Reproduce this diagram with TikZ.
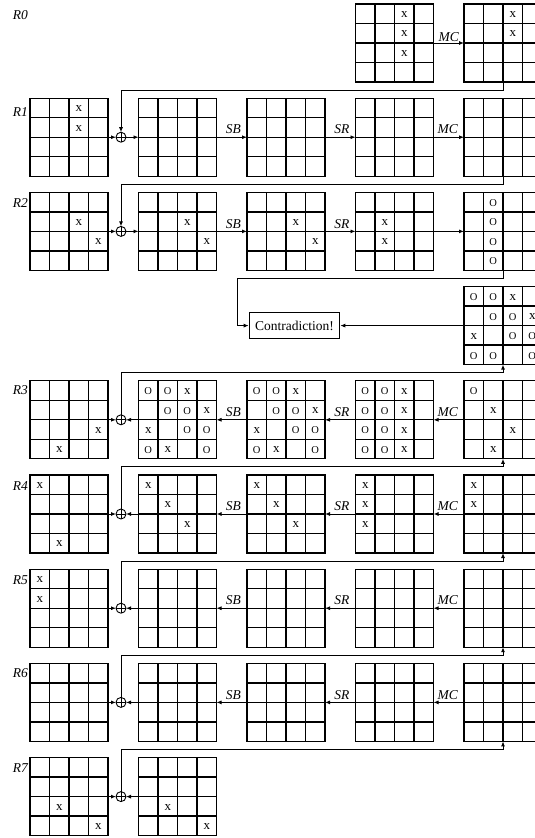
\documentclass[tikz,border=0pt]{standalone}
\usepackage{fontspec}
\setmainfont{Liberation Serif}
\usetikzlibrary{arrows.meta,positioning,calc}
\newcommand\Oo{{\fontsize{10.5}{10.5}\selectfont O}}
\newcommand\sgrid[3]{%
  \node[gridbox] (#1) at (#2,#3) {};
  \foreach \kk in {1,2,3}{%
    \draw[gline] ($(#1.north west)+(\kk*19.5,0)$) -- ($(#1.south west)+(\kk*19.5,0)$);
    \draw[gline] ($(#1.north west)+(0,\kk*19.5)$) -- ($(#1.north east)+(0,\kk*19.5)$);
  }}
\newcommand\smarks[2]{%
  \foreach \ri/\ci/\sy in {#2}{%
    \node[cellx] at ($(#1.north west)+(\ci*19.5+9.75,\ri*19.5+10.5)$) {\sy};
  }}
\tikzset{
  gridbox/.style={draw, line width=1.3pt, minimum width=78pt, minimum height=78pt, inner sep=0pt, outer sep=0pt, anchor=north west},
  gline/.style={line width=1.3pt},
  cellx/.style={inner sep=0pt, font=\fontsize{13}{13}\selectfont},
  conn/.style={line width=0.9pt, -{Latex[length=5pt,width=4pt]}},
  lbl/.style={inner sep=0pt, font=\fontsize{13.5}{13.5}\selectfont\itshape},
  rlbl/.style={inner sep=0pt, anchor=east, font=\fontsize{13.5}{13.5}\selectfont\itshape},
  oplus/.style={circle, draw, line width=0.9pt, minimum size=10pt, inner sep=0pt, outer sep=0pt,
    path picture={\draw[line width=0.9pt] (path picture bounding box.north) -- (path picture bounding box.south) (path picture bounding box.west) -- (path picture bounding box.east);}},
  cbox/.style={draw, line width=0.9pt, font=\fontsize{13.5}{13.5}\selectfont, inner xsep=6pt, minimum height=26pt},
}
\begin{document}
\begin{tikzpicture}[x=1pt,y=-1pt]
\useasboundingbox (0,0) rectangle (535,838);
\clip (0,0) rectangle (535,838);
% ---------- R0
\node[rlbl] (lR0) at (28,15) {R0};
\sgrid{a4}{355.5}{4} \smarks{a4}{0/2/x,1/2/x,2/2/x}
\sgrid{a5}{464}{4} \smarks{a5}{0/2/x,1/2/x}
\draw[conn] (a4) -- (a5);
\node[lbl, above left=1pt and 5pt] (la5) at (a5.west) {MC};
% ---------- R1
\node[rlbl] (lR1) at (28,112) {R1};
\sgrid{b1}{30}{98.2} \smarks{b1}{0/2/x,1/2/x}
\node[oplus] (ob) at (121,137.2) {};
\sgrid{b2}{138.5}{98.2}
\sgrid{b3}{247}{98.2}
\sgrid{b4}{355.5}{98.2}
\sgrid{b5}{464}{98.2}
\draw[conn] (b1) -- (ob);
\draw[conn] (ob) -- (b2);
\draw[conn] (b2) -- (b3);
\draw[conn] (b3) -- (b4);
\draw[conn] (b4) -- (b5);
\node[lbl, above left=3pt and 6pt] (lb3) at (b3.west) {SB};
\node[lbl, above left=3pt and 6pt] (lb4) at (b4.west) {SR};
\node[lbl, above left=3pt and 6pt] (lb5) at (b5.west) {MC};
\draw[conn] (a5.south) -- ++(0,8.1) -| (ob.north);
% ---------- R2
\node[rlbl] (lR2) at (28,203) {R2};
\sgrid{c1}{30}{192.4} \smarks{c1}{1/2/x,2/3/x}
\node[oplus] (oc) at (121,231.4) {};
\sgrid{c2}{138.5}{192.4} \smarks{c2}{1/2/x,2/3/x}
\sgrid{c3}{247}{192.4} \smarks{c3}{1/2/x,2/3/x}
\sgrid{c4}{355.5}{192.4} \smarks{c4}{1/1/x,2/1/x}
\sgrid{c5}{464}{192.4} \smarks{c5}{0/1/\Oo,1/1/\Oo,2/1/\Oo,3/1/\Oo}
\draw[conn] (c1) -- (oc);
\draw[conn] (oc) -- (c2);
\draw[conn] (c2) -- (c3);
\draw[conn] (c3) -- (c4);
\draw[conn] (c4) -- (c5);
\node[lbl, above left=3pt and 6pt] (lc3) at (c3.west) {SB};
\node[lbl, above left=3pt and 6pt] (lc4) at (c4.west) {SR};
\draw[conn] (b5.south) -- ++(0,8.1) -| (oc.north);
% ---------- Contradiction
\sgrid{d5}{464}{286.6}
\smarks{d5}{0/0/\Oo,0/1/\Oo,0/2/x,1/1/\Oo,1/2/\Oo,1/3/x,2/0/x,2/2/\Oo,2/3/\Oo,3/0/\Oo,3/1/\Oo,3/3/\Oo}
\node[cbox] (contra) at (294.5,325.6) {Contradiction!};
\coordinate (cturn) at (237.5,325.6);
\draw[conn] (d5) -- (contra);
\draw[conn] (c5.south) -- ++(0,8.1) -| (cturn) -- (contra.west);
% ---------- R3
\node[rlbl] (lR3) at (28,390) {R3};
\sgrid{e1}{30}{380.8} \smarks{e1}{2/3/x,3/1/x}
\node[oplus] (oe) at (121,419.8) {};
\sgrid{e2}{138.5}{380.8}
\smarks{e2}{0/0/\Oo,0/1/\Oo,0/2/x,1/1/\Oo,1/2/\Oo,1/3/x,2/0/x,2/2/\Oo,2/3/\Oo,3/0/\Oo,3/1/x,3/3/\Oo}
\sgrid{e3}{247}{380.8}
\smarks{e3}{0/0/\Oo,0/1/\Oo,0/2/x,1/1/\Oo,1/2/\Oo,1/3/x,2/0/x,2/2/\Oo,2/3/\Oo,3/0/\Oo,3/1/x,3/3/\Oo}
\sgrid{e4}{355.5}{380.8}
\smarks{e4}{0/0/\Oo,0/1/\Oo,0/2/x,1/0/\Oo,1/1/\Oo,1/2/x,2/0/\Oo,2/1/\Oo,2/2/x,3/0/\Oo,3/1/\Oo,3/2/x}
\sgrid{e5}{464}{380.8} \smarks{e5}{0/0/\Oo,1/1/x,2/2/x,3/1/x}
\draw[conn] (e1) -- (oe);
\draw[conn] (e2) -- (oe);
\draw[conn] (e3) -- (e2);
\draw[conn] (e4) -- (e3);
\draw[conn] (e5) -- (e4);
\node[lbl, above left=3pt and 6pt] (le3) at (e3.west) {SB};
\node[lbl, above left=3pt and 6pt] (le4) at (e4.west) {SR};
\node[lbl, above left=3pt and 6pt] (le5) at (e5.west) {MC};
\draw[conn] (oe.north) |- ($(d5.south)+(0,8.1)$) -- (d5.south);
% ---------- R4
\node[rlbl] (lR4) at (28,486) {R4};
\sgrid{f1}{30}{475} \smarks{f1}{0/0/x,3/1/x}
\node[oplus] (of) at (121,514) {};
\sgrid{f2}{138.5}{475} \smarks{f2}{0/0/x,1/1/x,2/2/x}
\sgrid{f3}{247}{475} \smarks{f3}{0/0/x,1/1/x,2/2/x}
\sgrid{f4}{355.5}{475} \smarks{f4}{0/0/x,1/0/x,2/0/x}
\sgrid{f5}{464}{475} \smarks{f5}{0/0/x,1/0/x}
\draw[conn] (f1) -- (of);
\draw[conn] (f2) -- (of);
\draw[conn] (f3) -- (f2);
\draw[conn] (f4) -- (f3);
\draw[conn] (f5) -- (f4);
\node[lbl, above left=3pt and 6pt] (lf3) at (f3.west) {SB};
\node[lbl, above left=3pt and 6pt] (lf4) at (f4.west) {SR};
\node[lbl, above left=3pt and 6pt] (lf5) at (f5.west) {MC};
\draw[conn] (of.north) |- ($(e5.south)+(0,8.1)$) -- (e5.south);
% ---------- R5
\node[rlbl] (lR5) at (28,580) {R5};
\sgrid{g1}{30}{569.2} \smarks{g1}{0/0/x,1/0/x}
\node[oplus] (og) at (121,608.2) {};
\sgrid{g2}{138.5}{569.2}
\sgrid{g3}{247}{569.2}
\sgrid{g4}{355.5}{569.2}
\sgrid{g5}{464}{569.2}
\draw[conn] (g1) -- (og);
\draw[conn] (g2) -- (og);
\draw[conn] (g3) -- (g2);
\draw[conn] (g4) -- (g3);
\draw[conn] (g5) -- (g4);
\node[lbl, above left=3pt and 6pt] (lg3) at (g3.west) {SB};
\node[lbl, above left=3pt and 6pt] (lg4) at (g4.west) {SR};
\node[lbl, above left=3pt and 6pt] (lg5) at (g5.west) {MC};
\draw[conn] (og.north) |- ($(f5.south)+(0,8.1)$) -- (f5.south);
% ---------- R6
\node[rlbl] (lR6) at (28,673) {R6};
\sgrid{h1}{30}{663.4}
\node[oplus] (oh) at (121,702.4) {};
\sgrid{h2}{138.5}{663.4}
\sgrid{h3}{247}{663.4}
\sgrid{h4}{355.5}{663.4}
\sgrid{h5}{464}{663.4}
\draw[conn] (h1) -- (oh);
\draw[conn] (h2) -- (oh);
\draw[conn] (h3) -- (h2);
\draw[conn] (h4) -- (h3);
\draw[conn] (h5) -- (h4);
\node[lbl, above left=3pt and 6pt] (lh3) at (h3.west) {SB};
\node[lbl, above left=3pt and 6pt] (lh4) at (h4.west) {SR};
\node[lbl, above left=3pt and 6pt] (lh5) at (h5.west) {MC};
\draw[conn] (oh.north) |- ($(g5.south)+(0,8.1)$) -- (g5.south);
% ---------- R7
\node[rlbl] (lR7) at (28,768) {R7};
\sgrid{i1}{30}{757.6} \smarks{i1}{2/1/x,3/3/x}
\node[oplus] (oi) at (121,796.6) {};
\sgrid{i2}{138.5}{757.6} \smarks{i2}{2/1/x,3/3/x}
\draw[conn] (i1) -- (oi);
\draw[conn] (i2) -- (oi);
\draw[conn] (oi.north) |- ($(h5.south)+(0,8.1)$) -- (h5.south);
\end{tikzpicture}
\end{document}
